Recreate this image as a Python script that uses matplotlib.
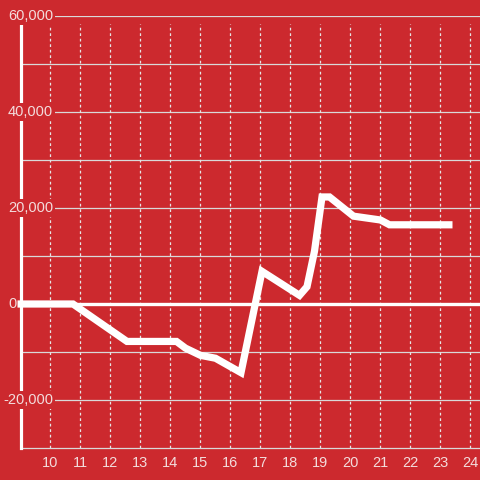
import matplotlib
matplotlib.use("Agg")
import matplotlib.pyplot as plt
from matplotlib.transforms import blended_transform_factory

# data
hours = [8.9, 10.75, 12.55, 14.2, 14.5, 15.0, 15.5, 16.35, 17.05, 18.3, 18.55,
         18.8, 19.05, 19.3, 20.1, 21.0, 21.3, 23.4]
values = [0, 0, -7800, -7800, -9200, -10700, -11300, -14300, 6800, 1800, 3600,
          11000, 22300, 22300, 18300, 17500, 16500, 16500]

x_ticks = list(range(10, 25))
y_ticks = [-20000, 0, 20000, 40000, 60000]
y_grid = list(range(-20000, 60001, 10000))

bg = '#cc292e'
txt = '#f3dcdc'

plt.rcParams['font.family'] = ['Liberation Sans', 'DejaVu Sans']

fig = plt.figure(figsize=(4.8, 4.8), dpi=100, facecolor=bg)
ax = fig.add_axes([21 / 480, 32 / 480, 459 / 480, 432 / 480], facecolor=bg)

ax.set_xlim(9.0167, 24.3167)
ax.set_ylim(-30000, 60000)

# grid
for g in y_grid:
    ax.axhline(g, color='#d9d9d9', lw=0.9, zorder=1)
for xt in x_ticks:
    ax.plot([xt, xt], [-30000, 58300], color='#e6e6e6', lw=0.9,
            dashes=(2.2, 2.2), zorder=1)
ax.axhline(0, color='white', lw=2.4, zorder=2)

# data line
ax.plot(hours, values, color='white', lw=5.2, solid_joinstyle='miter',
        solid_capstyle='butt', zorder=2.2, clip_on=False)

# spines
for s in ['top', 'right']:
    ax.spines[s].set_visible(False)
ax.spines['left'].set_color('white')
ax.spines['left'].set_linewidth(2.3)
ax.spines['left'].set_zorder(3)
ax.spines['bottom'].set_color('#d9d9d9')
ax.spines['bottom'].set_linewidth(0.9)

ax.set_xticks(x_ticks)
ax.set_xticklabels([str(v) for v in x_ticks])
ax.tick_params(axis='x', length=0, pad=6, labelsize=10.5, labelcolor=txt)
ax.set_yticks([])

# y labels sit on top of the axis line with a red box behind them
trans = blended_transform_factory(ax.transAxes, ax.transData)
for v in y_ticks:
    if v == 0:
        ax.text(-4.5 / 459, v, '0', transform=trans, ha='right', va='center',
                fontsize=10.5, color=txt, zorder=5, clip_on=False)
        continue
    ax.text(32 / 459, v, f'{v:,}', transform=trans, ha='right', va='center',
            fontsize=10.5, color=txt, zorder=5, clip_on=False,
            bbox=dict(facecolor=bg, edgecolor='none', pad=1.5))

fig.savefig('out.png', dpi=100, facecolor=bg)
